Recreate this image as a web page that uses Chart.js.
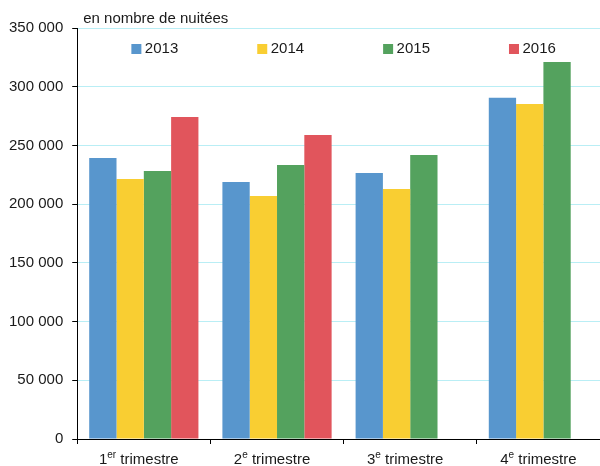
<!DOCTYPE html>
<html>
<head>
<meta charset="utf-8">
<script src="https://cdn.jsdelivr.net/npm/chart.js@4.4.1/dist/chart.umd.min.js"></script>
<style>
  html, body { margin: 0; padding: 0; background: #fff; overflow: hidden; }
  #wrap { width: 610px; height: 466px; }
</style>
</head>
<body>
<div id="wrap"><canvas id="chart"></canvas></div>
<script>
// --- DATA ---
const quarters = ["1er trimestre", "2e trimestre", "3e trimestre", "4e trimestre"];
const years = ["2013", "2014", "2015", "2016"];
const nights2013 = [239400, 218900, 226600, 290500];
const nights2014 = [221500, 207000, 212900, 285300];
const nights2015 = [228300, 233400, 241900, 321100];
const nights2016 = [274300, 258900, null, null];
const yTicks = [0, 50000, 100000, 150000, 200000, 250000, 300000, 350000];
const unitLabel = "en nombre de nuitées";

const colors = ["#5896cd", "#f9ce32", "#54a25e", "#e1555c"];
const FONT = "'Liberation Sans', Arial, sans-serif";

Chart.defaults.font.family = FONT;
Chart.defaults.font.size = 15;
Chart.defaults.color = "#1a1a1a";

// --- LEGEND INSIDE THE PLOT ---
const insideLegend = {
  id: "insideLegend",
  afterDraw(chart) {
    const ctx = chart.ctx;
    const area = chart.chartArea;
    ctx.save();
    ctx.font = "15px " + FONT;
    ctx.textBaseline = "middle";
    const gap = 79;
    const items = chart.data.datasets.map(ds => ({
      label: ds.label,
      color: ds.backgroundColor,
      w: 10 + 3.5 + ctx.measureText(ds.label).width
    }));
    const total = items.reduce((s, it) => s + it.w, 0) + gap * (items.length - 1);
    let x = (area.left + area.right) / 2 - total / 2;
    const y = area.top + 20;
    items.forEach(it => {
      ctx.fillStyle = it.color;
      ctx.fillRect(x, y - 4, 10, 10);
      ctx.fillStyle = "#1a1a1a";
      ctx.fillText(it.label, x + 13.5, y + 1);
      x += it.w + gap;
    });
    // unit caption
    ctx.textBaseline = "alphabetic";
    ctx.fillText(unitLabel, area.left + 6, area.top - 5);
    ctx.restore();
  }
};

// --- X LABELS WITH SUPERSCRIPT ---
const supLabels = {
  id: "supLabels",
  afterDraw(chart) {
    const ctx = chart.ctx;
    const xs = chart.scales.x;
    ctx.save();
    ctx.fillStyle = "#1a1a1a";
    ctx.textBaseline = "alphabetic";
    const y = chart.chartArea.bottom + 25;
    quarters.forEach((lab, i) => {
      const m = lab.match(/^(\d+)(\S+)(.*)$/);
      ctx.font = "15px " + FONT;
      const w1 = ctx.measureText(m[1]).width;
      const w3 = ctx.measureText(m[3]).width;
      ctx.font = "10px " + FONT;
      const w2 = ctx.measureText(m[2]).width;
      let x = xs.getPixelForValue(i) - 5 - (w1 + w2 + w3) / 2;
      ctx.font = "15px " + FONT;
      ctx.fillText(m[1], x, y);
      x += w1;
      ctx.font = "10px " + FONT;
      ctx.fillText(m[2], x, y - 6);
      x += w2;
      ctx.font = "15px " + FONT;
      ctx.fillText(m[3], x, y);
    });
    ctx.restore();
  }
};

// --- CHART ---
const series = [nights2013, nights2014, nights2015, nights2016];

new Chart(document.getElementById("chart"), {
  type: "bar",
  data: {
    labels: quarters,
    datasets: years.map((yr, i) => ({
      label: yr,
      data: series[i],
      backgroundColor: colors[i],
      borderWidth: 0,
      categoryPercentage: 0.82,
      barPercentage: 1.0
    }))
  },
  options: {
    responsive: true,
    maintainAspectRatio: false,
    animation: false,
    devicePixelRatio: 1,
    layout: { padding: { left: 0, top: 28, right: 0, bottom: 22 } },
    plugins: {
      legend: { display: false },
      tooltip: { enabled: false }
    },
    scales: {
      x: {
        offset: true,
        border: { color: "#000", width: 1 },
        grid: {
          offset: true,
          drawOnChartArea: false,
          drawTicks: true,
          tickLength: 5,
          tickColor: "#000"
        },
        ticks: { display: false }
      },
      y: {
        min: 0,
        max: 350000,
        border: { color: "#000", width: 1 },
        grid: {
          color: "#b9eef5",
          lineWidth: 1,
          tickLength: 5,
          tickColor: "#000"
        },
        afterBuildTicks: axis => {
          axis.ticks = yTicks.map(v => ({ value: v }));
        },
        ticks: {
          padding: 9,
          color: "#1a1a1a",
          callback: v => String(v).replace(/\B(?=(\d{3})+(?!\d))/g, " ")
        }
      }
    }
  },
  plugins: [insideLegend, supLabels]
});
</script>
</body>
</html>
